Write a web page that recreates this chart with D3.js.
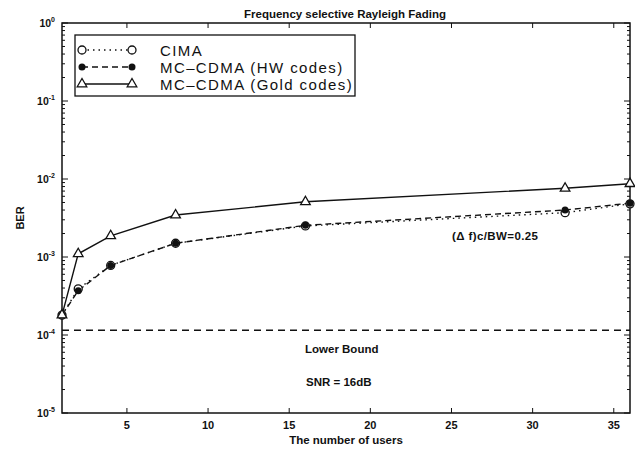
<!DOCTYPE html>
<html>
<head>
<meta charset="utf-8">
<script src="https://cdn.jsdelivr.net/npm/d3@7"></script>
<style>
  body { margin: 0; background: #fff; }
  svg text { font-family: "Liberation Sans", Arial, sans-serif; fill: #111; }
</style>
</head>
<body>
<div id="chart"></div>
<script>
// data
const users = [1, 2, 4, 8, 16, 32, 36];
const cima = [1.8e-4, 3.9e-4, 7.8e-4, 1.5e-3, 2.5e-3, 3.7e-3, 4.8e-3];
const hwCodes = [1.8e-4, 3.7e-4, 7.8e-4, 1.5e-3, 2.55e-3, 4.0e-3, 4.9e-3];
const goldCodes = [1.8e-4, 1.1e-3, 1.87e-3, 3.45e-3, 5.1e-3, 7.6e-3, 8.7e-3];
const lowerBound = 1.15e-4;
const xTicks = [5, 10, 15, 20, 25, 30, 35];
const yDecades = [0, -1, -2, -3, -4, -5];
const legendLabels = ['CIMA', 'MC\u2013CDMA (HW codes)', 'MC\u2013CDMA (Gold codes)'];

const width = 635, height = 449;
const plotLeft = 62, plotRight = 630, plotTop = 23, plotBottom = 413;

const svg = d3.select('#chart').append('svg')
    .attr('width', width)
    .attr('height', height);

const x = d3.scaleLinear().domain([1, 36]).range([plotLeft, plotRight]);
const y = d3.scaleLog().domain([1e-5, 1]).range([plotBottom, plotTop]);

// ticks, inward on all four sides
const minorVals = [];
yDecades.forEach(e => {
    if (e < 0) for (let m = 2; m <= 9; m++) minorVals.push(m * Math.pow(10, e));
});

const tickG = svg.append('g').attr('stroke', '#111').attr('stroke-width', 1);
minorVals.forEach(v => {
    tickG.append('line').attr('x1', plotLeft).attr('x2', plotLeft + 3).attr('y1', y(v)).attr('y2', y(v));
    tickG.append('line').attr('x1', plotRight).attr('x2', plotRight - 3).attr('y1', y(v)).attr('y2', y(v));
});
yDecades.forEach(e => {
    const v = Math.pow(10, e);
    tickG.append('line').attr('x1', plotLeft).attr('x2', plotLeft + 6).attr('y1', y(v)).attr('y2', y(v));
    tickG.append('line').attr('x1', plotRight).attr('x2', plotRight - 6).attr('y1', y(v)).attr('y2', y(v));
});
xTicks.forEach(t => {
    tickG.append('line').attr('x1', x(t)).attr('x2', x(t)).attr('y1', plotBottom).attr('y2', plotBottom - 5);
    tickG.append('line').attr('x1', x(t)).attr('x2', x(t)).attr('y1', plotTop).attr('y2', plotTop + 5);
});

// y tick labels: 10^e
yDecades.forEach(e => {
    const t = svg.append('text')
        .attr('x', plotLeft - 7)
        .attr('y', y(Math.pow(10, e)) + 4)
        .attr('text-anchor', 'end')
        .attr('font-size', 10.5)
        .attr('font-weight', 'bold');
    t.append('tspan').text('10');
    t.append('tspan').attr('dy', -5).attr('font-size', 7).text(e);
});

// x tick labels
svg.selectAll('.xlab')
    .data(xTicks)
    .enter().append('text')
    .attr('class', 'xlab')
    .attr('x', d => x(d))
    .attr('y', plotBottom + 16)
    .attr('text-anchor', 'middle')
    .attr('font-size', 11)
    .attr('font-weight', 'bold')
    .text(d => d);

// frame
svg.append('rect')
    .attr('x', plotLeft).attr('y', plotTop)
    .attr('width', plotRight - plotLeft).attr('height', plotBottom - plotTop)
    .attr('fill', 'none').attr('stroke', '#111').attr('stroke-width', 1.5);

// lower bound
svg.append('line')
    .attr('x1', x(1)).attr('x2', x(36))
    .attr('y1', y(lowerBound)).attr('y2', y(lowerBound))
    .attr('stroke', '#111').attr('stroke-width', 1.3)
    .attr('stroke-dasharray', '7,5');

const series = [
    {name: legendLabels[0], values: cima, dash: '1.5,4', marker: 'circle'},
    {name: legendLabels[1], values: hwCodes, dash: '6,4', marker: 'dot'},
    {name: legendLabels[2], values: goldCodes, dash: null, marker: 'triangle'},
];

const line = d3.line().x(d => x(d[0])).y(d => y(d[1]));

function drawMarker(g, type, cx, cy) {
    if (type === 'circle') {
        g.append('circle').attr('cx', cx).attr('cy', cy).attr('r', 4)
            .attr('fill', '#fff').attr('stroke', '#111').attr('stroke-width', 1.3);
    } else if (type === 'dot') {
        g.append('circle').attr('cx', cx).attr('cy', cy).attr('r', 3.5)
            .attr('fill', '#111');
    } else {
        const s = d3.symbol().type(d3.symbolTriangle).size(40);
        g.append('path').attr('d', s()).attr('transform', `translate(${cx},${cy})`)
            .attr('fill', '#fff').attr('stroke', '#111').attr('stroke-width', 1.3);
    }
}

const plotG = svg.append('g');
series.forEach(s => {
    const pts = users.map((u, i) => [u, s.values[i]]);
    plotG.append('path')
        .attr('d', line(pts))
        .attr('fill', 'none')
        .attr('stroke', '#111')
        .attr('stroke-width', 1.4)
        .attr('stroke-dasharray', s.dash);
});
series.forEach(s => {
    users.forEach((u, i) => drawMarker(plotG, s.marker, x(u), y(s.values[i])));
});

// legend
const lg = svg.append('g');
lg.append('rect')
    .attr('x', 75).attr('y', 35).attr('width', 280).attr('height', 61)
    .attr('fill', '#fff').attr('stroke', '#111').attr('stroke-width', 1.3);
series.forEach((s, i) => {
    const ly = 50 + i * 17;
    lg.append('line')
        .attr('x1', 82).attr('x2', 132).attr('y1', ly).attr('y2', ly)
        .attr('stroke', '#111').attr('stroke-width', 1.4)
        .attr('stroke-dasharray', s.dash);
    drawMarker(lg, s.marker, 82, ly);
    drawMarker(lg, s.marker, 132, ly);
    lg.append('text')
        .attr('x', 160).attr('y', ly + 5.5)
        .attr('font-size', 15)
        .attr('letter-spacing', 1.4)
        .text(s.name);
});

// title and labels
svg.append('text')
    .attr('x', 345).attr('y', 18)
    .attr('text-anchor', 'middle')
    .attr('font-size', 11.5).attr('font-weight', 'bold')
    .text('Frequency selective Rayleigh Fading');

svg.append('text')
    .attr('x', 346).attr('y', 444)
    .attr('text-anchor', 'middle')
    .attr('font-size', 11.5).attr('font-weight', 'bold')
    .text('The number of users');

svg.append('text')
    .attr('transform', `translate(24, 218) rotate(-90)`)
    .attr('text-anchor', 'middle')
    .attr('font-size', 11).attr('font-weight', 'bold')
    .text('BER');

svg.append('text')
    .attr('x', 452).attr('y', 240)
    .attr('font-size', 11.5).attr('font-weight', 'bold')
    .attr('letter-spacing', 0.4)
    .text('(\u0394 f)c/BW=0.25');

svg.append('text')
    .attr('x', 305).attr('y', 353)
    .attr('font-size', 11.5).attr('font-weight', 'bold')
    .text('Lower Bound');

svg.append('text')
    .attr('x', 306).attr('y', 386)
    .attr('font-size', 11.5).attr('font-weight', 'bold')
    .text('SNR = 16dB');
</script>
</body>
</html>
